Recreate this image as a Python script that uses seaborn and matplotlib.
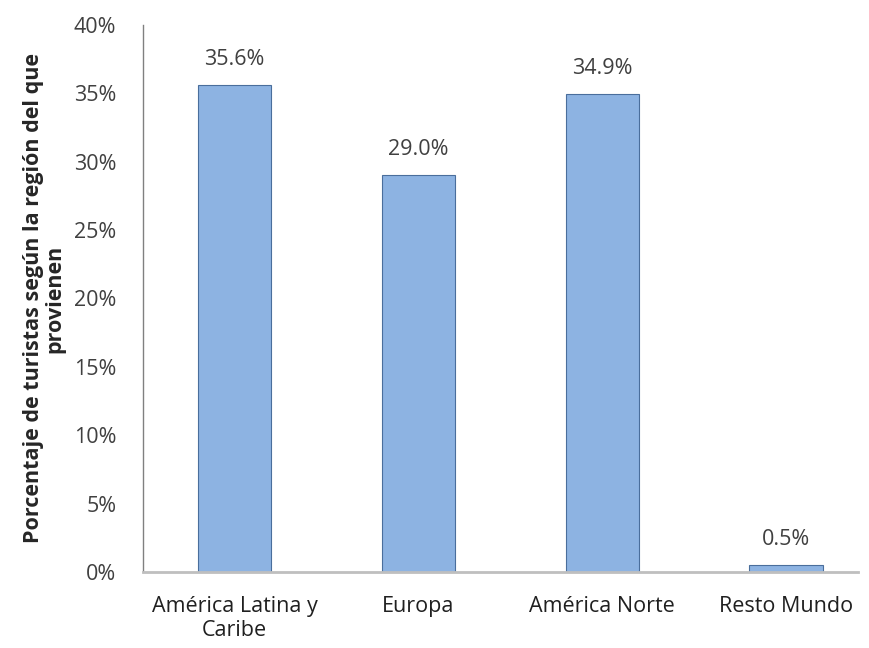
import pandas as pd
import numpy as np
import matplotlib.pyplot as plt
import seaborn as sns

# datos: porcentaje de turistas por region de procedencia
regiones = ['América Latina y\nCaribe', 'Europa', 'América Norte', 'Resto Mundo']
porcentajes = [35.6, 29.0, 34.9, 0.5]
ticks_y = [0, 5, 10, 15, 20, 25, 30, 35, 40]

df = pd.DataFrame({'Region': regiones, 'Porcentaje': porcentajes})

sns.set_style('white')
plt.rcParams['font.family'] = ['Open Sans', 'DejaVu Sans']

fig, ax = plt.subplots(figsize=(8.7, 6.48), dpi=100)
fig.subplots_adjust(left=0.164, right=0.986, top=0.962, bottom=0.117)

sns.barplot(data=df, x='Region', y='Porcentaje', color='#8DB3E2', width=0.4,
            edgecolor='#4A6E9C', linewidth=0.8, saturation=1, ax=ax)

# etiquetas sobre las barras
for i, v in enumerate(porcentajes):
    ax.text(i, v + 1.1, f'{v:.1f}%', ha='center', va='bottom', fontsize=15.5, color='#404040')

ax.set_ylim(0, 40)
ax.set_xlim(-0.5, 3.39)
ax.set_yticks(ticks_y)
ax.set_yticklabels([f'{t}%' for t in ticks_y], fontsize=15.5, color='#404040')
ax.tick_params(axis='x', labelsize=15.5, colors='#202020', length=0, pad=17)
ax.tick_params(axis='y', length=0, pad=19)
ax.set_xlabel('')
ax.set_ylabel('Porcentaje de turistas según la región del que\nprovienen',
              fontsize=15.5, fontweight='bold', labelpad=6, linespacing=1.05)

for s in ['top', 'right']:
    ax.spines[s].set_visible(False)
ax.spines['left'].set_color('#808080')
ax.spines['left'].set_linewidth(1)
ax.spines['bottom'].set_color('#BFBFBF')
ax.spines['bottom'].set_linewidth(2)

fig.savefig('out.png', dpi=100)
